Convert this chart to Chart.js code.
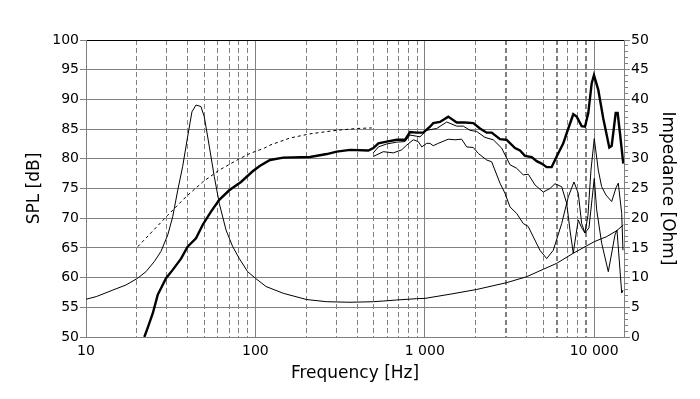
<!DOCTYPE html>
<html>
<head>
<meta charset="utf-8">
<script src="https://cdn.jsdelivr.net/npm/chart.js@4.4.1/dist/chart.umd.min.js"></script>
<style>
html,body{margin:0;padding:0;background:#fff;}
#wrap{width:700px;height:399px;position:relative;}
</style>
</head>
<body>
<div id="wrap"><canvas id="c" width="700" height="399"></canvas></div>
<script>
// ---- tick values / labels ----
const freqMajorTicks = [10, 100, 1000, 10000];
const freqMajorLabels = ['10', '100', '1 000', '10 000'];
const freqMinorTicks = [20, 30, 40, 50, 60, 70, 80, 90,
  200, 300, 400, 500, 600, 700, 800, 900,
  2000, 3000, 4000, 5000, 6000, 7000, 8000, 9000];
const splTicks = [50, 55, 60, 65, 70, 75, 80, 85, 90, 95, 100];
const impMajorTicks = [0, 5, 10, 15, 20, 25, 30, 35, 40, 45, 50];
const impAllTicks = [0,1,2,3,4,5,6,7,8,9,10,11,12,13,14,15,16,17,18,19,20,21,22,23,24,25,
  26,27,28,29,30,31,32,33,34,35,36,37,38,39,40,41,42,43,44,45,46,47,48,49,50];

// ---- series: [frequency Hz, value] ----
const splOnAxis = [[22.1,50],[23.1,51.5],[24.8,54],[26.5,57.1],[29.7,59.9],[32.5,61.3],[36.4,63.2],[39.8,65.2],
  [44.6,66.6],[48.9,68.9],[54.7,71.1],[61.2,73.1],[70.1,74.7],[82.2,76.1],[96.4,77.9],[106,78.8],[122,79.8],
  [146,80.2],[210,80.3],[264,80.8],[302,81.2],[362,81.5],[464,81.4],[497,81.8],[532,82.6],[596,82.9],
  [683,83.2],[764,83.2],[818,84.5],[896,84.4],[980,84.4],[1073,85.4],[1122,86.0],[1229,86.2],[1376,87.1],
  [1543,86.1],[1727,86.1],[1934,86.0],[2118,85.1],[2320,84.4],[2483,84.4],[2780,83.3],[3044,83.2],
  [3409,81.8],[3648,81.4],[3905,80.5],[4277,80.3],[4577,79.6],[4898,79.2],[5244,78.6],[5612,78.6],
  [6006,80.4],[6571,82.6],[7034,85.1],[7527,87.5],[7882,87.1],[8437,85.5],[8825,85.4],[9231,87.7],
  [9666,92.7],[9972,94.1],[10573,91.6],[11317,86.8],[12283,81.9],[12690,82.2],[13398,87.7],[13764,87.7],
  [14200,84.3],[14855,79.2]];

const splOff15 = [[497,81.0],[532,82.0],[596,82.5],[683,82.8],[764,82.9],[818,84.0],[896,83.8],[937,83.7],
  [1026,84.8],[1176,85.1],[1347,86.2],[1543,85.5],[1688,85.5],[1849,84.8],[2025,84.6],[2267,83.6],
  [2537,83.2],[2844,81.8],[3184,79.0],[3487,78.4],[3815,77.3],[4083,77.4],[4472,75.6],[5006,74.4],
  [5483,75.0],[5870,75.8],[6429,75.3],[6882,72.5],[7197,68.0],[7527,64.1],[7808,67.2],[8055,69.7],
  [8437,68.4],[8825,67.5],[9192,70.5],[9575,78.1],[10014,83.4],[10573,78.1],[11073,75.3],[11743,73.9],
  [12690,72.8],[13453,75.1],[13880,75.9],[14540,70.8],[14794,64.6]];

const splOff30 = [[497,80.4],[569,81.2],[652,81.0],[730,81.5],[782,82.3],[855,83.2],[915,82.9],[960,82.0],
  [1026,82.6],[1073,82.6],[1122,82.2],[1201,82.6],[1376,83.3],[1507,83.2],[1651,83.3],[1768,82.0],
  [1934,81.9],[2070,80.9],[2320,79.8],[2483,79.5],[2780,75.9],[2975,74.2],[3184,71.9],[3487,70.8],
  [3815,69.1],[4083,68.6],[4178,68.0],[4786,64.6],[5244,63.2],[5735,64.6],[6429,69.1],[7034,73.6],
  [7599,76.1],[8055,74.2],[8437,69.1],[8825,67.5],[9318,68.4],[9706,73.1],[10014,76.7],[10346,71.4],
  [11073,65.8],[12117,61.0],[13272,67.2],[13637,68.0],[14540,57.4],[14794,57.9]];

const splLowFreq = [[20.2,65.2],[30.4,70.5],[38.9,73.6],[48.9,76.1],[61.2,78.1],[80.4,80.0],[92.9,80.9],
  [113,81.8],[122,82.3],[160,83.5],[210,84.2],[302,84.8],[396,85.1],[486,85.2]];

const impedance = [[10,6.35],[11.5,6.8],[14.4,7.9],[17.2,8.75],[20.2,9.9],[22.6,11.0],[25.3,12.7],[27.7,14.4],
  [30.4,17.2],[32.5,20.25],[34.8,24.7],[37.2,28.7],[39.8,33.7],[42.2,37.9],[44.6,39.05],[47.7,38.8],
  [49.9,37.1],[53.5,32.0],[57.2,27.0],[61.2,22.5],[67.1,18.0],[73.5,15.2],[80.4,13.2],[90,11.0],[100,9.9],
  [115.5,8.5],[146,7.36],[201,6.3],[264,5.94],[362,5.85],[497,5.94],[569,6.06],[683,6.23],[896,6.45],
  [1002,6.5],[1408,7.2],[2025,8.0],[3044,9.15],[3995,10.15],[5006,11.4],[6006,12.4],[7527,14.1],
  [10014,16.05],[11855,16.9],[13590,17.9],[14855,18.85]];

const toXY = arr => arr.map(p => ({x: p[0], y: p[1]}));

const FONT = 'DejaVu Sans';
const GRID = '#808080';

const line = (data, axis, width, dash) => ({
  data: toXY(data), xAxisID: 'x', yAxisID: axis,
  borderColor: '#000', backgroundColor: '#000', borderWidth: width,
  borderDash: dash || [], pointRadius: 0, tension: 0, fill: false
});

new Chart(document.getElementById('c'), {
  type: 'line',
  data: {
    datasets: [
      line(splOnAxis, 'y', 2.4),
      line(splOff15, 'y', 1),
      line(splOff30, 'y', 1),
      line(splLowFreq, 'y', 1, [3, 3]),
      line(impedance, 'y2', 1)
    ]
  },
  options: {
    responsive: false,
    animation: false,
    devicePixelRatio: 1,
    layout: {padding: {top: 40, left: 0, right: 0, bottom: 0}},
    plugins: {legend: {display: false}, tooltip: {enabled: false}},
    scales: {
      x: {
        type: 'logarithmic', position: 'bottom', min: 10, max: 15000,
        afterBuildTicks: s => { s.ticks = freqMajorTicks.map(v => ({value: v})); },
        afterFit: s => { s.height = 62; },
        ticks: {
          autoSkip: false, maxRotation: 0, padding: 6, color: '#000',
          font: {family: FONT, size: 14},
          callback: (v) => { const i = freqMajorTicks.indexOf(v); return i >= 0 ? freqMajorLabels[i] : ''; }
        },
        grid: {color: GRID, lineWidth: 1, drawTicks: false},
        border: {display: true, color: GRID},
        title: {display: true, text: 'Frequency [Hz]', color: '#000',
          font: {family: FONT, size: 17}, padding: {top: 0, bottom: 15}}
      },
      xMinor: {
        type: 'logarithmic', position: 'bottom', min: 10, max: 15000,
        afterBuildTicks: s => { s.ticks = freqMinorTicks.map(v => ({value: v})); },
        afterFit: s => { s.height = 0; },
        ticks: {display: false},
        grid: {
          color: GRID, drawTicks: false,
          lineWidth: ctx => (ctx.tick && [3000, 6000, 9000].includes(ctx.tick.value)) ? 2 : 1
        },
        border: {display: false, dash: [5, 3]}
      },
      y: {
        type: 'linear', position: 'left', min: 50, max: 100,
        afterBuildTicks: s => { s.ticks = splTicks.map(v => ({value: v})); },
        afterFit: s => { s.width = 86; },
        ticks: {autoSkip: false, padding: 1, color: '#000', font: {family: FONT, size: 14}},
        grid: {
          color: ctx => (ctx.tick && ctx.tick.value === 100) ? '#000' : GRID,
          tickColor: GRID, tickLength: 6, lineWidth: 1
        },
        border: {display: true, color: GRID},
        title: {display: true, text: 'SPL [dB]', color: '#000',
          font: {family: FONT, size: 17}, padding: {top: 24, bottom: 0}}
      },
      y2: {
        type: 'linear', position: 'right', min: 0, max: 50,
        afterBuildTicks: s => { s.ticks = impAllTicks.map(v => ({value: v})); },
        afterFit: s => { s.width = 76; },
        ticks: {
          autoSkip: false, padding: 1, color: '#000', font: {family: FONT, size: 14},
          callback: v => impMajorTicks.includes(v) ? String(v) : ''
        },
        grid: {
          drawOnChartArea: false, tickColor: GRID, tickLength: 6,
          tickBorderDash: ctx => (ctx.tick && impMajorTicks.includes(ctx.tick.value)) ? [] : [3, 20]
        },
        border: {display: true, color: GRID},
        title: {display: true, text: 'Impedance [Ohm]', color: '#000',
          font: {family: FONT, size: 17}, padding: {top: 22, bottom: 0}}
      }
    }
  }
});
</script>
</body>
</html>
